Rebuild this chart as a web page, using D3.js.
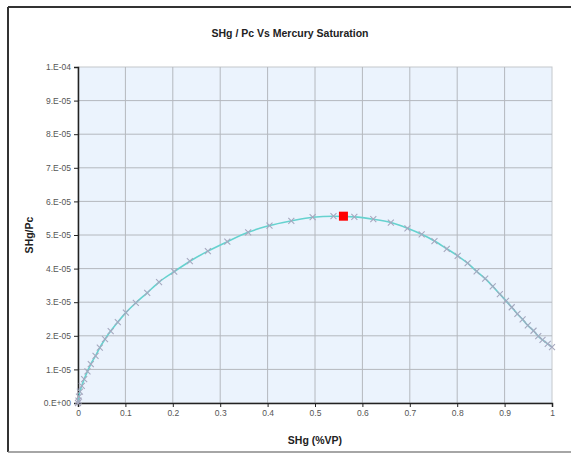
<!DOCTYPE html>
<html>
<head>
<meta charset="utf-8">
<script src="https://cdnjs.cloudflare.com/ajax/libs/d3/7.8.5/d3.min.js"></script>
<style>
    body { margin: 0; background: #fff; }
    svg { display: block; font-family: "Liberation Sans", Arial, sans-serif; }
    .axis text { font-size: 8.5px; fill: #555; }
    .axis path, .axis line { stroke: #222; }
</style>
</head>
<body>
<svg id="chart"></svg>
<script>
// mercury saturation (fraction of pore volume)
var satHg = [0, 0.001, 0.002, 0.004, 0.008, 0.013, 0.020, 0.027, 0.037, 0.046,
    0.057, 0.069, 0.084, 0.101, 0.122, 0.146, 0.171, 0.203, 0.236, 0.274,
    0.315, 0.359, 0.404, 0.450, 0.495, 0.539, 0.583, 0.623, 0.660, 0.695,
    0.725, 0.752, 0.778, 0.801, 0.822, 0.841, 0.859, 0.875, 0.890, 0.903,
    0.915, 0.927, 0.938, 0.949, 0.961, 0.971, 0.980, 0.991, 1.000];
// SHg / Pc
var shgPc = [0, 0.07e-5, 0.19e-5, 0.34e-5, 0.51e-5, 0.71e-5, 0.94e-5, 1.16e-5, 1.40e-5, 1.65e-5,
    1.90e-5, 2.14e-5, 2.41e-5, 2.69e-5, 2.98e-5, 3.28e-5, 3.60e-5, 3.91e-5, 4.22e-5, 4.52e-5,
    4.80e-5, 5.08e-5, 5.28e-5, 5.42e-5, 5.53e-5, 5.56e-5, 5.54e-5, 5.47e-5, 5.37e-5, 5.20e-5,
    5.02e-5, 4.82e-5, 4.59e-5, 4.38e-5, 4.16e-5, 3.92e-5, 3.70e-5, 3.47e-5, 3.24e-5, 3.04e-5,
    2.85e-5, 2.65e-5, 2.49e-5, 2.31e-5, 2.15e-5, 1.99e-5, 1.88e-5, 1.76e-5, 1.66e-5];
// the maximum (apex) point
var apexSat = [0.560];
var apexVal = [5.56e-5];

var xTicks = [0, 0.1, 0.2, 0.3, 0.4, 0.5, 0.6, 0.7, 0.8, 0.9, 1];
var yTicks = [0, 1e-5, 2e-5, 3e-5, 4e-5, 5e-5, 6e-5, 7e-5, 8e-5, 9e-5, 1e-4];

var width = 571, height = 454;
var plot = { left: 78, right: 552, top: 67, bottom: 403 };

var svg = d3.select("#chart")
    .attr("width", width)
    .attr("height", height);

// outer chart frame
svg.append("line").attr("x1", 8).attr("x2", width).attr("y1", 7).attr("y2", 7)
    .attr("stroke", "#333").attr("stroke-width", 2);
svg.append("line").attr("x1", 8).attr("x2", 8).attr("y1", 7).attr("y2", 452)
    .attr("stroke", "#333").attr("stroke-width", 2);
svg.append("line").attr("x1", 8).attr("x2", width).attr("y1", 452).attr("y2", 452)
    .attr("stroke", "#888").attr("stroke-width", 1.5);

var x = d3.scaleLinear().domain([0, 1]).range([plot.left, plot.right]);
var y = d3.scaleLinear().domain([0, 1e-4]).range([plot.bottom, plot.top]);

// plot background
svg.append("rect")
    .attr("x", plot.left)
    .attr("y", plot.top)
    .attr("width", plot.right - plot.left)
    .attr("height", plot.bottom - plot.top)
    .attr("fill", "#ebf3fd")
    .attr("stroke", "#c4c8cc");

// grid
svg.append("g").selectAll("line")
    .data(xTicks.slice(1, -1))
    .enter().append("line")
    .attr("x1", function(d) { return x(d); })
    .attr("x2", function(d) { return x(d); })
    .attr("y1", plot.top)
    .attr("y2", plot.bottom)
    .attr("stroke", "#b4b8be");
svg.append("g").selectAll("line")
    .data(yTicks.slice(1, -1))
    .enter().append("line")
    .attr("x1", plot.left)
    .attr("x2", plot.right)
    .attr("y1", function(d) { return y(d); })
    .attr("y2", function(d) { return y(d); })
    .attr("stroke", "#b4b8be");

// excel style 1.E-04
function sciFormat(v) {
    if (v === 0) return "0.E+00";
    var e = Math.floor(Math.log10(v) + 1e-9);
    var m = Math.round(v / Math.pow(10, e));
    var es = Math.abs(e) < 10 ? "0" + Math.abs(e) : "" + Math.abs(e);
    return m + ".E" + (e < 0 ? "-" : "+") + es;
}

svg.append("g")
    .attr("class", "axis")
    .attr("transform", "translate(0," + plot.bottom + ")")
    .call(d3.axisBottom(x).tickValues(xTicks).tickSize(4).tickPadding(3)
        .tickFormat(function(d) { return d3.format("")(d); }))
    .call(function(g) { g.select(".domain").attr("stroke-width", 1.5); });

svg.append("g")
    .attr("class", "axis")
    .attr("transform", "translate(" + plot.left + ",0)")
    .call(d3.axisLeft(y).tickValues(yTicks).tickSize(4).tickPadding(3).tickFormat(sciFormat))
    .call(function(g) { g.select(".domain").attr("stroke-width", 1.5); });

var pts = satHg.map(function(d, i) { return [d, shgPc[i]]; });

var line = d3.line()
    .x(function(d) { return x(d[0]); })
    .y(function(d) { return y(d[1]); })
    .curve(d3.curveMonotoneX);

svg.append("path")
    .datum(pts)
    .attr("d", line)
    .attr("fill", "none")
    .attr("stroke", "#66d2cf")
    .attr("stroke-width", 1.6);

// x markers
svg.append("g").selectAll("path")
    .data(pts)
    .enter().append("path")
    .attr("transform", function(d) { return "translate(" + x(d[0]) + "," + y(d[1]) + ")"; })
    .attr("d", "M-3,-3L3,3M-3,3L3,-3")
    .attr("stroke", "#a6a8bf")
    .attr("stroke-width", 1.1)
    .attr("fill", "none");

svg.append("g").selectAll("rect")
    .data(apexSat)
    .enter().append("rect")
    .attr("x", function(d) { return x(d) - 4.5; })
    .attr("y", function(d, i) { return y(apexVal[i]) - 4.5; })
    .attr("width", 9)
    .attr("height", 9)
    .attr("fill", "#ff0000");

// titles
svg.append("text")
    .attr("x", 290)
    .attr("y", 37)
    .attr("text-anchor", "middle")
    .style("font-size", "10.5px")
    .style("font-weight", "bold")
    .attr("fill", "#222")
    .text("SHg / Pc Vs Mercury Saturation");

svg.append("text")
    .attr("x", 315)
    .attr("y", 444)
    .attr("text-anchor", "middle")
    .style("font-size", "10.5px")
    .style("font-weight", "bold")
    .attr("fill", "#222")
    .text("SHg (%VP)");

svg.append("text")
    .attr("transform", "translate(33,235) rotate(-90)")
    .attr("text-anchor", "middle")
    .style("font-size", "10.5px")
    .style("font-weight", "bold")
    .attr("fill", "#222")
    .text("SHg/Pc");
</script>
</body>
</html>
